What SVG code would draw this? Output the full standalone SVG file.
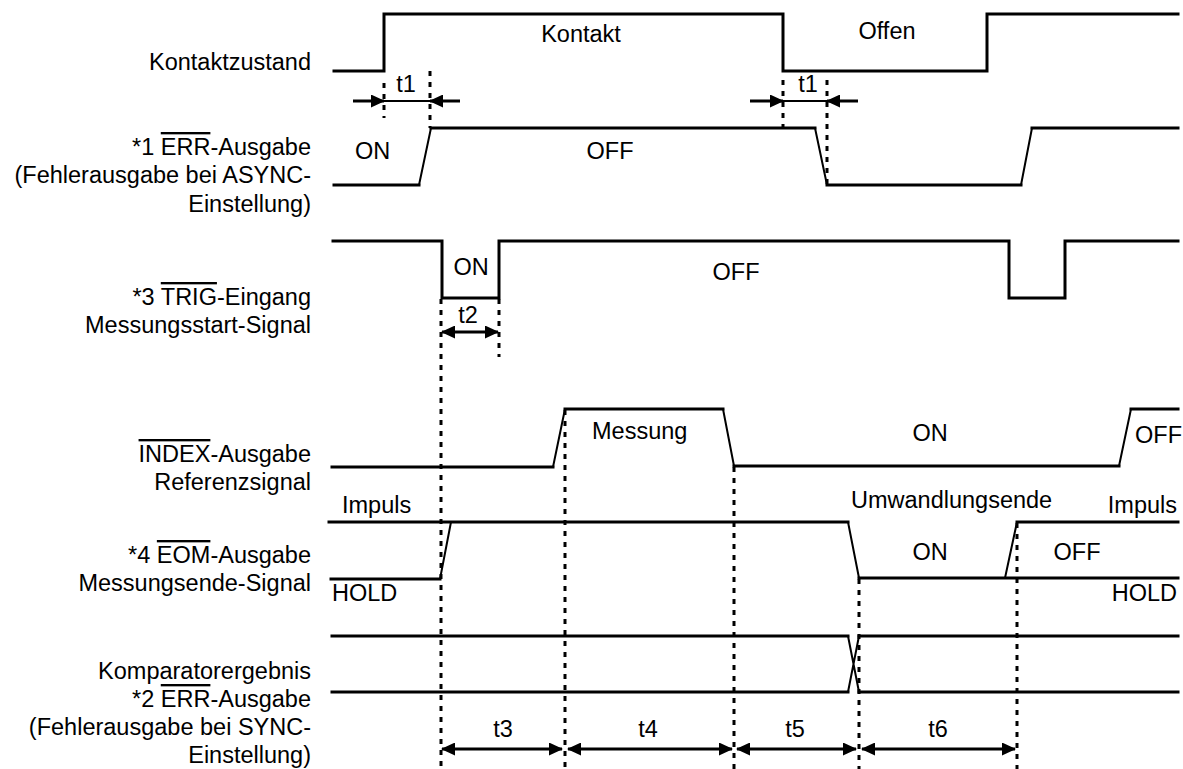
<svg xmlns="http://www.w3.org/2000/svg" width="1183" height="769" viewBox="0 0 1183 769">
<defs>
<marker id="ah" markerUnits="userSpaceOnUse" markerWidth="14" markerHeight="13" refX="13" refY="6.5" orient="auto-start-reverse"><path d="M0,0 L14,6.5 L0,13 z" fill="#000"/></marker>
</defs>
<style>
text{font-family:"Liberation Sans",Arial,sans-serif;font-size:23.5px;fill:#000}
.lbl{text-anchor:end}
.mid{text-anchor:middle}
.sig{fill:none;stroke:#000;stroke-width:3;stroke-linecap:square}
.slope{fill:none;stroke:#000;stroke-width:2}
.dot{fill:none;stroke:#000;stroke-width:3;stroke-dasharray:5 6}
.arr{fill:none;stroke:#000;stroke-width:3}
.thin{fill:none;stroke:#000;stroke-width:2}
.ov{text-decoration:overline}
</style>
<rect width="1183" height="769" fill="#fff"/>

<g id="kontaktzustand">
<text class="lbl" x="311" y="70">Kontaktzustand</text>
<polyline class="sig" points="334,71 384,71 384,14 783,14 783,71 987,71 987,14 1178,14"/>
<text class="mid" x="581" y="42">Kontakt</text>
<text class="mid" x="887" y="39">Offen</text>
</g>

<g id="err-async">
<text class="lbl" x="311" y="155">*1 <tspan class="ov">ERR</tspan>-Ausgabe</text>
<text class="lbl" x="311" y="183">(Fehlerausgabe bei ASYNC-</text>
<text class="lbl" x="311" y="212">Einstellung)</text>
<path class="sig" d="M334,185 H419 M431,128 H815 M827,185 H1021 M1032,128 H1178"/>
<path class="slope" d="M419,185 L431,128 M815,128 L827,185 M1021,185 L1032,128"/>
<text x="355" y="159">ON</text>
<text class="mid" x="610" y="159">OFF</text>
</g>

<g id="trig">
<text class="lbl" x="311" y="305">*3 <tspan class="ov">TRIG</tspan>-Eingang</text>
<text class="lbl" x="311" y="333">Messungsstart-Signal</text>
<polyline class="sig" points="333,241 442,241 442,298 499,298 499,241 1009,241 1009,298 1065,298 1065,241 1178,241"/>
<text class="mid" x="471" y="275">ON</text>
<text class="mid" x="736" y="280">OFF</text>
</g>

<g id="index">
<text class="lbl" x="311" y="462"><tspan class="ov">INDEX</tspan>-Ausgabe</text>
<text class="lbl" x="311" y="490">Referenzsignal</text>
<path class="sig" d="M332,467 H553 M565,409 H723 M734,466 H1119 M1131,409 H1178"/>
<path class="slope" d="M553,467 L565,409 M723,409 L734,466 M1119,466 L1131,409"/>
<text x="592" y="439">Messung</text>
<text class="mid" x="930" y="441">ON</text>
<text x="1135" y="443">OFF</text>
</g>

<g id="eom">
<text class="lbl" x="311" y="563">*4 <tspan class="ov">EOM</tspan>-Ausgabe</text>
<text class="lbl" x="311" y="591">Messungsende-Signal</text>
<path class="sig" d="M329,522 H848 M331,579 H440 M859,578 H1178 M1017,522 H1178"/>
<path class="slope" d="M440,579 L451,522 M848,522 L859,578 M1005,578 L1017,522"/>
<text x="342" y="513">Impuls</text>
<text x="332" y="601">HOLD</text>
<text x="851" y="508">Umwandlungsende</text>
<text class="lbl" x="1177" y="513">Impuls</text>
<text class="lbl" x="1177" y="601">HOLD</text>
<text class="mid" x="930" y="560">ON</text>
<text class="mid" x="1077" y="560">OFF</text>
</g>

<g id="komparator">
<text class="lbl" x="311" y="679">Komparatorergebnis</text>
<text class="lbl" x="311" y="707">*2 <tspan class="ov">ERR</tspan>-Ausgabe</text>
<text class="lbl" x="311" y="735">(Fehlerausgabe bei SYNC-</text>
<text class="lbl" x="311" y="763">Einstellung)</text>
<path class="sig" d="M332,636 H848 M332,692 H848 M859,636 H1178 M859,692 H1178"/>
<path class="slope" d="M848,636 L859,692 M848,692 L859,636"/>
</g>

<g id="connectors">
<path class="dot" d="M384,83 V118 M430,71 V128 M783,80 V128 M827,80 V185 M441,299 V769 M499,299 V357 M565,410 V769 M734,467 V769 M859,579 V769 M1017,523 V769"/>
<line class="arr" x1="353" y1="101" x2="384" y2="101" marker-end="url(#ah)"/>
<line class="thin" x1="384" y1="101" x2="430" y2="101"/>
<line class="arr" x1="460" y1="101" x2="430" y2="101" marker-end="url(#ah)"/>
<line class="arr" x1="750" y1="101" x2="783" y2="101" marker-end="url(#ah)"/>
<line class="thin" x1="783" y1="101" x2="827" y2="101"/>
<line class="arr" x1="858" y1="101" x2="827" y2="101" marker-end="url(#ah)"/>
<line class="arr" x1="442" y1="332" x2="498" y2="332" marker-start="url(#ah)" marker-end="url(#ah)"/>
<line class="arr" x1="442" y1="749" x2="562" y2="749" marker-start="url(#ah)" marker-end="url(#ah)"/>
<line class="arr" x1="568" y1="749" x2="732" y2="749" marker-start="url(#ah)" marker-end="url(#ah)"/>
<line class="arr" x1="737" y1="749" x2="856" y2="749" marker-start="url(#ah)" marker-end="url(#ah)"/>
<line class="arr" x1="862" y1="749" x2="1015" y2="749" marker-start="url(#ah)" marker-end="url(#ah)"/>
<text class="mid" x="406" y="92">t1</text>
<text class="mid" x="808" y="92">t1</text>
<text class="mid" x="468" y="323">t2</text>
<text class="mid" x="503" y="737">t3</text>
<text class="mid" x="648" y="737">t4</text>
<text class="mid" x="795" y="737">t5</text>
<text class="mid" x="938" y="737">t6</text>
</g>
</svg>
